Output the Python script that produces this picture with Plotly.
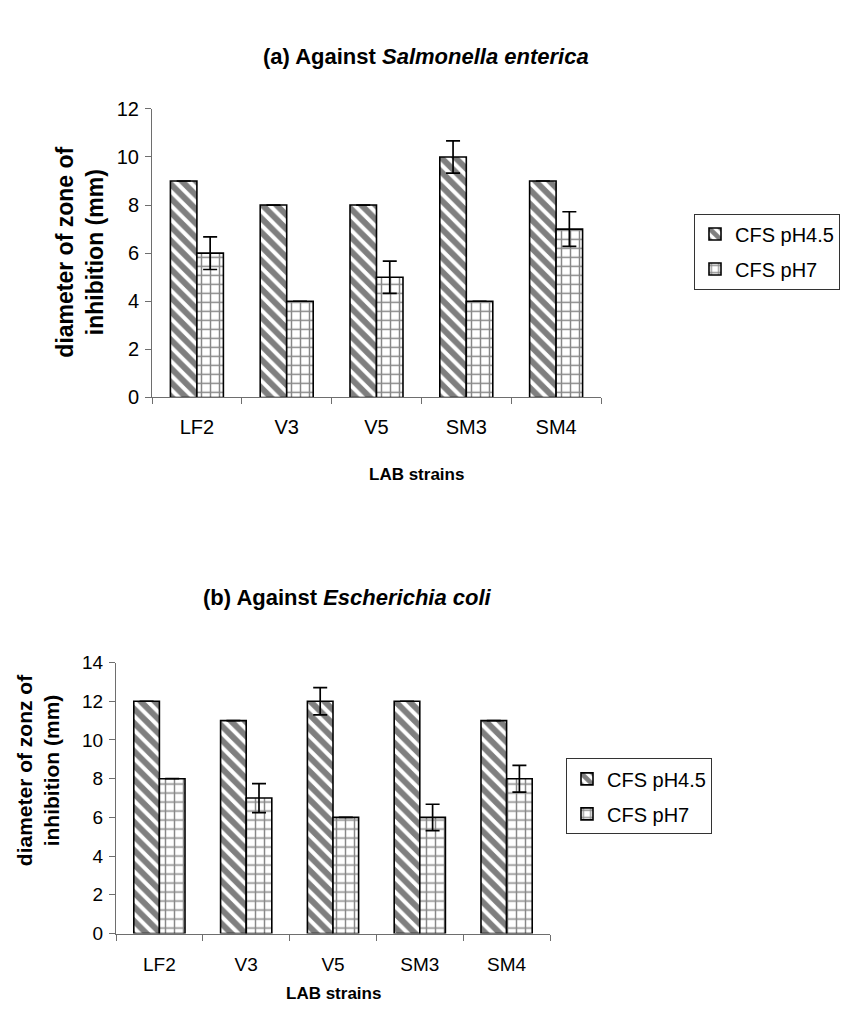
import plotly.graph_objects as go

# ---------------- data ----------------
strains = ["LF2", "V3", "V5", "SM3", "SM4"]
series_names = ["CFS pH4.5", "CFS pH7"]

# (a) Against Salmonella enterica
sal_ph45 = [9, 8, 8, 10, 9]
sal_ph45_err = [0, 0, 0, 0.67, 0]
sal_ph7 = [6, 4, 5, 4, 7]
sal_ph7_err = [0.68, 0, 0.67, 0, 0.72]

# (b) Against Escherichia coli
eco_ph45 = [12, 11, 12, 12, 11]
eco_ph45_err = [0, 0, 0.7, 0, 0]
eco_ph7 = [8, 7, 6, 6, 8]
eco_ph7_err = [0, 0.75, 0, 0.68, 0.69]

top_yticks = [0, 2, 4, 6, 8, 10, 12]
bot_yticks = [0, 2, 4, 6, 8, 10, 12, 14]

# ---------------- styling ----------------
W, H = 844, 1014
FONT = "Liberation Sans, Arial, Helvetica, sans-serif"
AXIS_COL = "#6e6e6e"


def px(x):
    return x / W


def py(y):
    return 1 - y / H


hatch = dict(shape="\\", size=10, solidity=0.6, fgcolor="black", bgcolor="white")
brick = dict(shape="+", size=9, solidity=0.3, fgcolor="#111", bgcolor="white")


def bars(x, y, err, name, pattern, xa, ya, leg, grp):
    return go.Bar(
        x=x, y=y, name=name, xaxis=xa, yaxis=ya, legend=leg, legendgroup=grp,
        marker=dict(color="white", pattern=pattern, line=dict(color="black", width=1.6)),
        error_y=dict(type="data", array=err, visible=True, color="black",
                     thickness=1.7, width=7),
    )


fig = go.Figure()
fig.add_trace(bars(strains, sal_ph45, sal_ph45_err, series_names[0], hatch, "x", "y", "legend", "a1"))
fig.add_trace(bars(strains, sal_ph7, sal_ph7_err, series_names[1], brick, "x", "y", "legend", "a2"))
fig.add_trace(bars(strains, eco_ph45, eco_ph45_err, series_names[0], hatch, "x2", "y2", "legend2", "b1"))
fig.add_trace(bars(strains, eco_ph7, eco_ph7_err, series_names[1], brick, "x2", "y2", "legend2", "b2"))

common_x = dict(
    showline=True, linecolor=AXIS_COL, linewidth=1, ticks="outside", ticklen=6,
    tickcolor=AXIS_COL, tickson="boundaries", showgrid=False, zeroline=False,
    range=[-0.5, 4.5], fixedrange=True,
)
common_y = dict(
    showline=True, linecolor=AXIS_COL, linewidth=1, ticks="outside", ticklen=6,
    tickcolor=AXIS_COL, showgrid=False, zeroline=False, fixedrange=True,
)

legend_common = dict(
    bordercolor="#333", borderwidth=1, bgcolor="white",
    font=dict(family=FONT, size=20, color="black"),
    xanchor="left", yanchor="top", itemwidth=30, tracegroupgap=6,
)

fig.update_layout(
    width=W, height=H,
    margin=dict(l=0, r=0, t=0, b=0),
    paper_bgcolor="white", plot_bgcolor="white",
    font=dict(family=FONT, color="black"),
    barmode="group", bargap=0.41, bargroupgap=0,
    xaxis=dict(common_x, domain=[px(152), px(601)], anchor="y",
               tickfont=dict(size=20), ticklabelstandoff=12),
    yaxis=dict(common_y, domain=[py(395), py(100)], anchor="x", range=[0, 12],
               tickvals=top_yticks, tickfont=dict(size=20), ticklabelstandoff=2),
    xaxis2=dict(common_x, domain=[px(116), px(550)], anchor="y2",
                tickfont=dict(size=19), ticklabelstandoff=14),
    yaxis2=dict(common_y, domain=[py(943), py(666)], anchor="x2", range=[0, 14],
                tickvals=bot_yticks, tickfont=dict(size=19), ticklabelstandoff=2),
    legend=dict(legend_common, x=px(694), y=py(207)),
    legend2=dict(legend_common, x=px(566), y=py(764)),
    showlegend=True,
)

ann = [
    dict(text="<b>(a) Against <i>Salmonella enterica</i></b>", x=px(426), y=py(46), size=22, angle=0),
    dict(text="<b>diameter of zone of<br>inhibition (mm)</b>", x=px(80), y=py(247), size=23, angle=-90),
    dict(text="<b>LAB strains</b>", x=px(416), y=py(474), size=17, angle=0),
    dict(text="<b>(b) Against <i>Escherichia coli</i></b>", x=px(347), y=py(600), size=22, angle=0),
    dict(text="<b>diameter of zonz of<br>inhibition (mm)</b>", x=px(38), y=py(776), size=21, angle=-90),
    dict(text="<b>LAB strains</b>", x=px(333), y=py(1004), size=17, angle=0),
]
for a in ann:
    fig.add_annotation(
        text=a["text"], x=a["x"], y=a["y"], xref="paper", yref="paper",
        xanchor="center", yanchor="middle", showarrow=False, textangle=a["angle"],
        font=dict(family=FONT, size=a["size"], color="black"),
    )

fig.write_html("out.html", config={"displayModeBar": False},
               post_script="document.body.style.margin='0';")
